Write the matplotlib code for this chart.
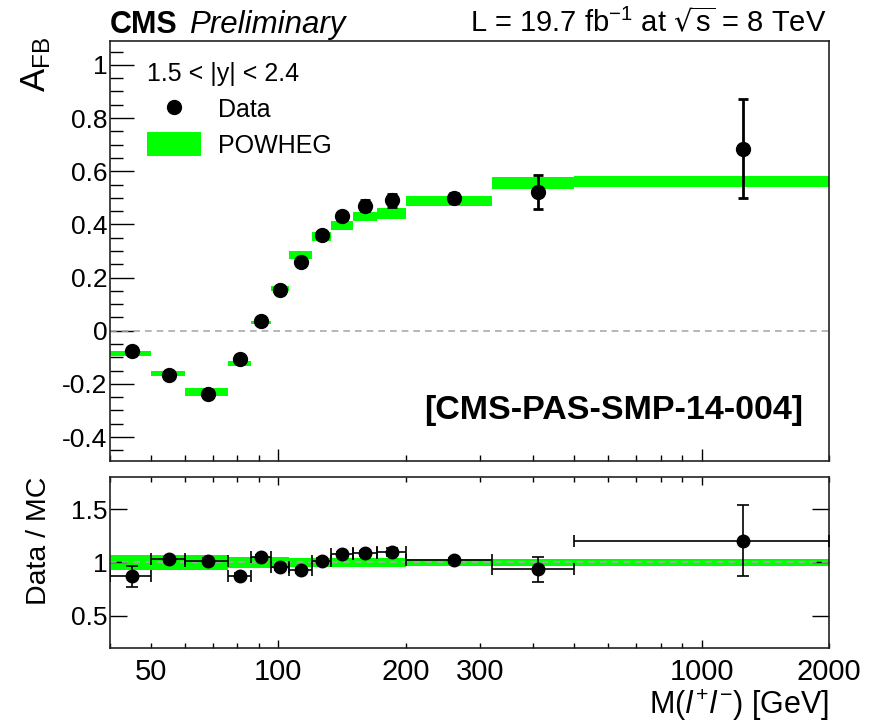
import numpy as np
import matplotlib
matplotlib.use("Agg")
import matplotlib.pyplot as plt
from matplotlib.lines import Line2D
from matplotlib.patches import Patch
from matplotlib.ticker import FixedLocator, MultipleLocator, FuncFormatter

plt.rcParams['font.family'] = ['Liberation Sans', 'DejaVu Sans']
plt.rcParams['mathtext.default'] = 'regular'

# mass bins [GeV]
edges = np.array([40, 50, 60, 76, 86, 96, 106, 120, 133, 150, 171, 200, 320, 500, 2000])

# A_FB, 1.5 < |y| < 2.4
afb_data = np.array([-0.076, -0.166, -0.239, -0.107, 0.036, 0.153, 0.260,
                     0.360, 0.432, 0.470, 0.490, 0.499, 0.522, 0.685])
afb_data_err = np.array([0.010, 0.008, 0.008, 0.008, 0.008, 0.008, 0.010,
                         0.012, 0.015, 0.020, 0.025, 0.020, 0.063, 0.187])
afb_mc = np.array([-0.086, -0.161, -0.231, -0.122, 0.031, 0.159, 0.285,
                   0.353, 0.396, 0.429, 0.442, 0.488, 0.556, 0.561])
afb_mc_err = np.array([0.008, 0.011, 0.016, 0.009, 0.004, 0.010, 0.015,
                       0.017, 0.017, 0.017, 0.020, 0.019, 0.022, 0.021])

# data / MC
ratio = np.array([0.870, 1.034, 1.018, 0.878, 1.050, 0.953, 0.925,
                  1.018, 1.080, 1.084, 1.096, 1.021, 0.937, 1.205])
ratio_err = np.array([0.100, 0.020, 0.020, 0.020, 0.020, 0.020, 0.020,
                      0.020, 0.020, 0.020, 0.040, 0.025, 0.115, 0.330])
ratio_band = np.array([0.068, 0.068, 0.068, 0.055, 0.055, 0.055, 0.045,
                       0.045, 0.045, 0.045, 0.045, 0.034, 0.034, 0.034])

green = '#00ff00'
lo, hi = edges[:-1], edges[1:]
centers = 0.5 * (lo + hi)
widths = hi - lo

fig = plt.figure(figsize=(8.82, 7.24), dpi=100)
ax = fig.add_axes([0.1247, 0.3633, 0.8152, 0.5801])
rx = fig.add_axes([0.1247, 0.1050, 0.8152, 0.2362], sharex=ax)

# --- upper panel
ax.bar(lo, 2 * afb_mc_err, bottom=afb_mc - afb_mc_err, width=widths,
       align='edge', color=green, linewidth=0, zorder=1)
ax.axhline(0, color='#aaaaaa', ls='--', lw=1.2, dashes=(4, 3), zorder=2)
ax.errorbar(centers, afb_data, yerr=afb_data_err, fmt='o', color='black',
            ms=10, elinewidth=2, capsize=3.5, capthick=2, zorder=3)

ax.set_xscale('log')
ax.set_xlim(40, 2000)
ax.set_ylim(-0.49, 1.09)
ax.yaxis.set_major_locator(MultipleLocator(0.2))
ax.yaxis.set_minor_locator(MultipleLocator(0.05))
ax.yaxis.set_major_formatter(FuncFormatter(lambda v, p: f"{v:g}"))

ax.set_ylabel(r"A$_{FB}$", fontsize=25, loc='top')
ax.yaxis.set_label_coords(-0.079, 1.01)

ax.text(0.0, 1.02, "CMS", transform=ax.transAxes, fontsize=22,
        fontweight='bold', va='baseline', ha='left')
ax.text(0.110, 1.02, "Preliminary", transform=ax.transAxes, fontsize=22.5,
        style='italic', va='baseline', ha='left')
ax.text(0.996, 1.02, r"L = 19.7 fb$^{-1}$ at $\sqrt{s}$ = 8 TeV",
        transform=ax.transAxes, fontsize=21, va='baseline', ha='right')
ax.text(0.964, 0.121, "[CMS-PAS-SMP-14-004]", transform=ax.transAxes,
        fontsize=24.5, fontweight='bold', va='center', ha='right')

handles = [Line2D([], [], marker='o', color='black', ls='none', ms=10),
           Patch(facecolor=green, edgecolor='none')]
leg = ax.legend(handles, ["Data", "POWHEG"], title="1.5 < |y| < 2.4",
                loc='upper left', bbox_to_anchor=(0.034, 0.979),
                frameon=False, fontsize=18, title_fontsize=18,
                handlelength=2.16, handleheight=1.12, handletextpad=0.68,
                labelspacing=0.4, alignment='left', borderpad=0.0)

# --- ratio panel
rx.bar(lo, 2 * ratio_band, bottom=1 - ratio_band, width=widths,
       align='edge', color=green, linewidth=0, zorder=1)
rx.axhline(1, color='#aaaaaa', ls='--', lw=1.2, dashes=(4, 3), zorder=2)
rx.errorbar(centers, ratio, yerr=ratio_err, xerr=[centers - lo, hi - centers],
            fmt='o', color='black', ms=9, elinewidth=1.2, capsize=4,
            capthick=1.2, zorder=3)

rx.set_ylim(0.2, 1.8)
rx.yaxis.set_major_locator(FixedLocator([0.5, 1.0, 1.5]))
rx.yaxis.set_major_formatter(FuncFormatter(lambda v, p: f"{v:g}"))
rx.set_ylabel("Data / MC", fontsize=20.5, loc='top')
rx.yaxis.set_label_coords(-0.080, 1.0)
rx.set_xlabel(r"M($\mathit{l}^{+}\mathit{l}^{-}$) [GeV]", fontsize=22,
              loc='right', labelpad=1)

rx.xaxis.set_major_locator(FixedLocator([100, 1000]))
rx.xaxis.set_minor_locator(FixedLocator([40, 50, 60, 70, 80, 90, 200, 300, 400,
                                         500, 600, 700, 800, 900, 2000]))
rx.xaxis.set_major_formatter(FuncFormatter(lambda v, p: f"{v:g}"))
rx.xaxis.set_minor_formatter(FuncFormatter(
    lambda v, p: f"{v:g}" if v in (50, 200, 300, 2000) else ""))

for a in (ax, rx):
    for s in a.spines.values():
        s.set_linewidth(1.2)
        s.set_color('#222222')

ax.tick_params(axis='x', which='both', direction='in', bottom=True, top=False,
               labelbottom=False)
ax.tick_params(axis='x', which='major', length=8.6, width=1.0)
ax.tick_params(axis='x', which='minor', length=4.3, width=1.0)
ax.tick_params(axis='y', which='both', direction='in', left=True, right=False,
               labelsize=19, pad=2)
ax.tick_params(axis='y', which='major', length=17, width=1.0)
ax.tick_params(axis='y', which='minor', length=9, width=1.0)

rx.tick_params(axis='x', which='both', direction='in', bottom=True, top=True,
               labelsize=21, pad=7)
rx.tick_params(axis='x', which='major', length=5.5, width=1.0)
rx.tick_params(axis='x', which='minor', length=3.5, width=1.0)
rx.tick_params(axis='y', which='major', direction='in', left=True, right=True,
               length=12, width=1.0, labelsize=19, pad=2)
rx.tick_params(axis='y', which='minor', left=False, right=False)
plt.setp(ax.get_xticklabels(minor=True), visible=False)

fig.savefig("out.png", dpi=100)
